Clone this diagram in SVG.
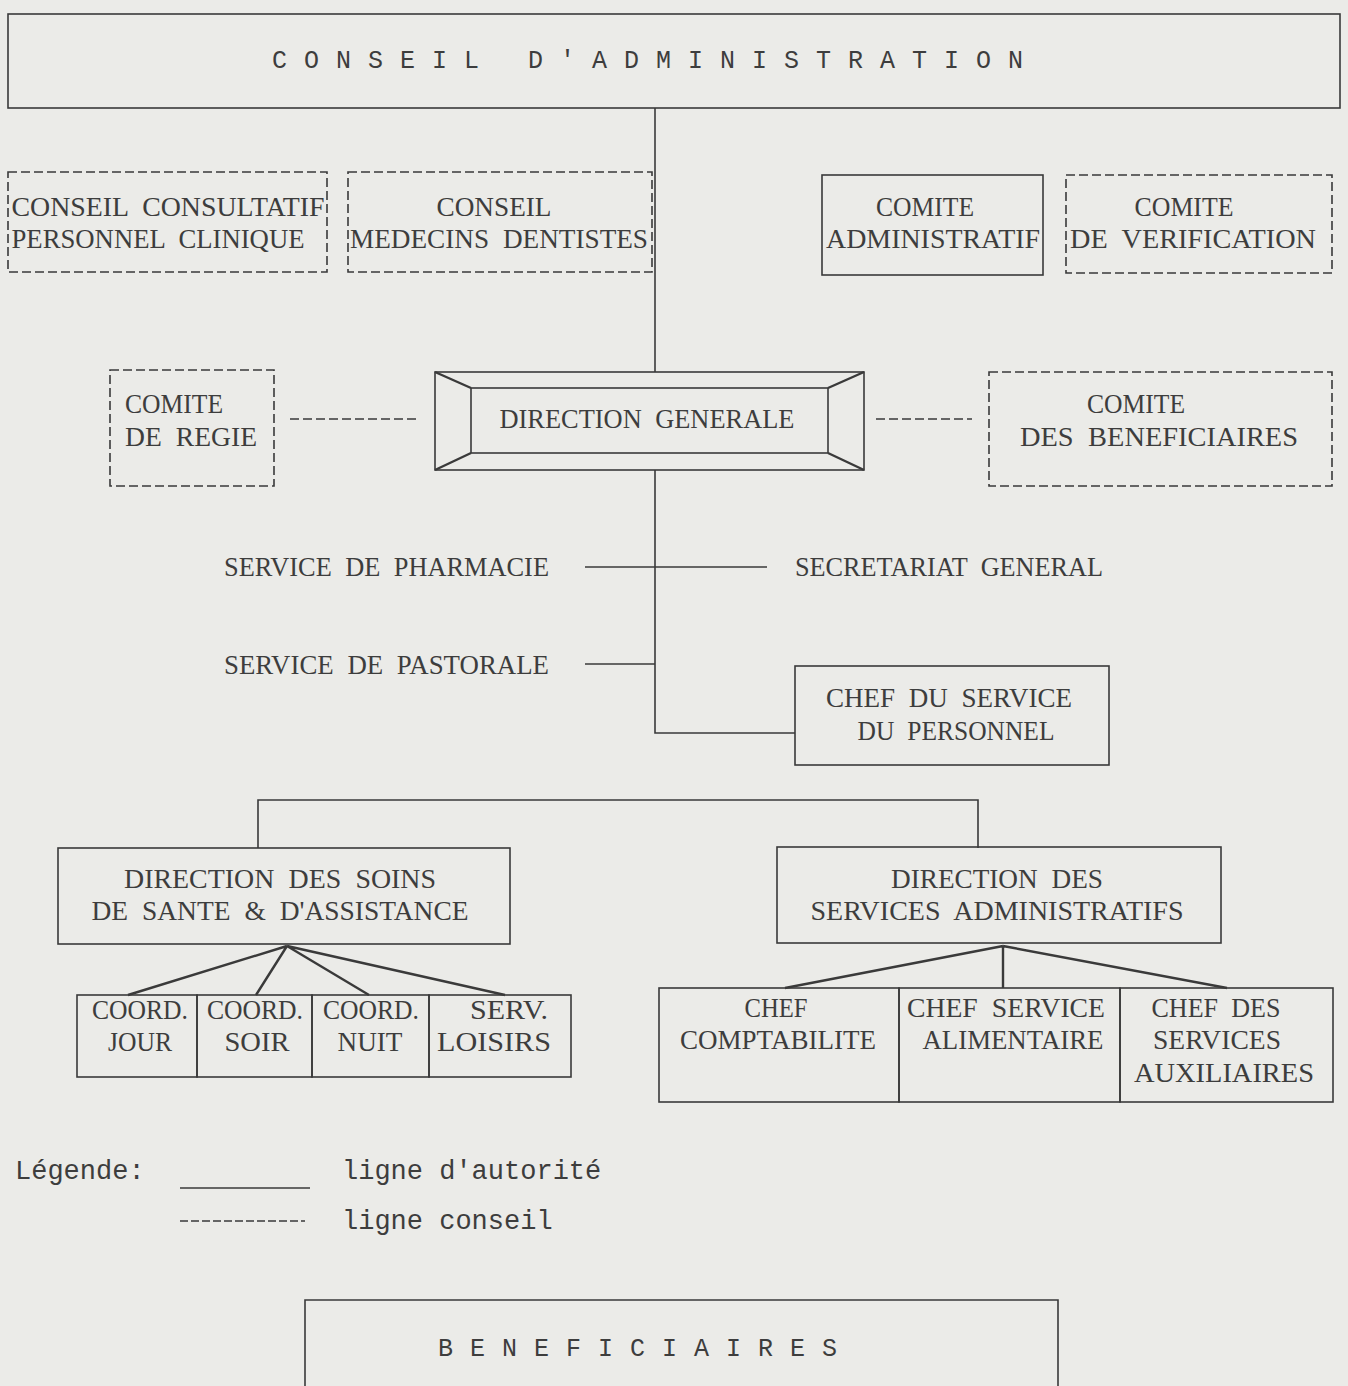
<svg xmlns="http://www.w3.org/2000/svg" width="1348" height="1386" viewBox="0 0 1348 1386">
<style>
.bg{fill:#ebebe8}
.box{fill:none;stroke:#3a3a3a;stroke-width:1.6}
.dbox{fill:none;stroke:#3a3a3a;stroke-width:1.6;stroke-dasharray:9 4}
.ln{fill:none;stroke:#3a3a3a;stroke-width:1.6}
.fan{fill:none;stroke:#3a3a3a;stroke-width:2.4}
.dl{fill:none;stroke:#3a3a3a;stroke-width:1.6;stroke-dasharray:9 4}
.t{font-family:"Liberation Serif","Times New Roman",serif;font-size:27px;fill:#3d3d3d;text-anchor:middle;word-spacing:7px}
.ts{font-family:"Liberation Serif","Times New Roman",serif;font-size:27px;fill:#3d3d3d;word-spacing:7px}
.lg{font-family:"Liberation Mono","Courier New",monospace;font-size:27px;fill:#3d3d3d}
.big{font-family:"Liberation Mono","Courier New",monospace;font-size:25px;fill:#3d3d3d;letter-spacing:17px}
</style>
<rect class="bg" x="0" y="0" width="1348" height="1386"/>

<g id="connectors">
  <path class="ln" d="M655 108 V372"/>
  <path class="ln" d="M655 470 V733 H795"/>
  <path class="ln" d="M585 567 H767"/>
  <path class="ln" d="M585 664 H655"/>
  <path class="ln" d="M258 848 V800 H978 V848"/>
  <path class="fan" d="M287 946 L128 995 M287 946 L256 995 M287 946 L369 995 M287 946 L505 995"/>
  <path class="fan" d="M1003 946 L785 988 M1003 946 V988 M1003 946 L1227 988"/>
  <path class="dl" d="M290 419 H417"/>
  <path class="dl" d="M876 419 H972"/>
</g>

<g id="conseil-administration">
  <rect class="box" x="8" y="14" width="1332" height="94"/>
  <text class="big" x="272" y="68">CONSEIL D'ADMINISTRATION</text>
</g>

<g id="conseil-consultatif">
  <rect class="dbox" x="8" y="172" width="319" height="100"/>
  <text class="t" x="168" y="216" textLength="313" lengthAdjust="spacingAndGlyphs">CONSEIL CONSULTATIF</text>
  <text class="t" x="158" y="248" textLength="293" lengthAdjust="spacingAndGlyphs">PERSONNEL CLINIQUE</text>
</g>

<g id="conseil-medecins">
  <rect class="dbox" x="348" y="172" width="304" height="100"/>
  <text class="t" x="494" y="216" textLength="115" lengthAdjust="spacingAndGlyphs">CONSEIL</text>
  <text class="t" x="499" y="248" textLength="298" lengthAdjust="spacingAndGlyphs">MEDECINS DENTISTES</text>
</g>

<g id="comite-administratif">
  <rect class="box" x="822" y="175" width="221" height="100"/>
  <text class="t" x="925" y="216" textLength="98" lengthAdjust="spacingAndGlyphs">COMITE</text>
  <text class="t" x="933" y="248" textLength="214" lengthAdjust="spacingAndGlyphs">ADMINISTRATIF</text>
</g>

<g id="comite-verification">
  <rect class="dbox" x="1066" y="175" width="266" height="98"/>
  <text class="t" x="1184" y="216" textLength="99" lengthAdjust="spacingAndGlyphs">COMITE</text>
  <text class="t" x="1193" y="248" textLength="246" lengthAdjust="spacingAndGlyphs">DE VERIFICATION</text>
</g>

<g id="comite-regie">
  <rect class="dbox" x="110" y="370" width="164" height="116"/>
  <text class="ts" x="125" y="413" textLength="98" lengthAdjust="spacingAndGlyphs">COMITE</text>
  <text class="ts" x="125" y="446" textLength="132" lengthAdjust="spacingAndGlyphs">DE REGIE</text>
</g>

<g id="direction-generale">
  <rect class="box" x="435" y="372" width="429" height="98"/>
  <rect class="box" x="471" y="388" width="357" height="65"/>
  <path class="fan" d="M435 372 L471 388 M435 470 L471 453 M864 372 L828 388 M864 470 L828 453"/>
  <text class="t" x="647" y="428" textLength="295" lengthAdjust="spacingAndGlyphs">DIRECTION GENERALE</text>
</g>

<g id="comite-beneficiaires">
  <rect class="dbox" x="989" y="372" width="343" height="114"/>
  <text class="t" x="1136" y="413" textLength="98" lengthAdjust="spacingAndGlyphs">COMITE</text>
  <text class="t" x="1159" y="446" textLength="278" lengthAdjust="spacingAndGlyphs">DES BENEFICIAIRES</text>
</g>

<g id="service-pharmacie">
  <text class="ts" x="224" y="576" textLength="325" lengthAdjust="spacingAndGlyphs">SERVICE DE PHARMACIE</text>
</g>
<g id="secretariat-general">
  <text class="ts" x="795" y="576" textLength="308" lengthAdjust="spacingAndGlyphs">SECRETARIAT GENERAL</text>
</g>
<g id="service-pastorale">
  <text class="ts" x="224" y="674" textLength="325" lengthAdjust="spacingAndGlyphs">SERVICE DE PASTORALE</text>
</g>

<g id="chef-personnel">
  <rect class="box" x="795" y="666" width="314" height="99"/>
  <text class="t" x="949" y="707" textLength="246" lengthAdjust="spacingAndGlyphs">CHEF DU SERVICE</text>
  <text class="t" x="956" y="740" textLength="197" lengthAdjust="spacingAndGlyphs">DU PERSONNEL</text>
</g>

<g id="direction-soins">
  <rect class="box" x="58" y="848" width="452" height="96"/>
  <text class="t" x="280" y="888" textLength="312" lengthAdjust="spacingAndGlyphs">DIRECTION DES SOINS</text>
  <text class="t" x="280" y="920" textLength="377" lengthAdjust="spacingAndGlyphs">DE SANTE &amp; D'ASSISTANCE</text>
</g>

<g id="coord-jour">
  <rect class="box" x="77" y="995" width="120" height="82"/>
  <text class="t" x="140" y="1019" textLength="96" lengthAdjust="spacingAndGlyphs">COORD.</text>
  <text class="t" x="140" y="1051" textLength="64" lengthAdjust="spacingAndGlyphs">JOUR</text>
</g>
<g id="coord-soir">
  <rect class="box" x="197" y="995" width="115" height="82"/>
  <text class="t" x="255" y="1019" textLength="96" lengthAdjust="spacingAndGlyphs">COORD.</text>
  <text class="t" x="257" y="1051" textLength="65" lengthAdjust="spacingAndGlyphs">SOIR</text>
</g>
<g id="coord-nuit">
  <rect class="box" x="312" y="995" width="117" height="82"/>
  <text class="t" x="371" y="1019" textLength="96" lengthAdjust="spacingAndGlyphs">COORD.</text>
  <text class="t" x="370" y="1051" textLength="65" lengthAdjust="spacingAndGlyphs">NUIT</text>
</g>
<g id="serv-loisirs">
  <rect class="box" x="429" y="995" width="142" height="82"/>
  <text class="t" x="509" y="1019" textLength="78" lengthAdjust="spacingAndGlyphs">SERV.</text>
  <text class="t" x="494" y="1051" textLength="114" lengthAdjust="spacingAndGlyphs">LOISIRS</text>
</g>

<g id="direction-services">
  <rect class="box" x="777" y="847" width="444" height="96"/>
  <text class="t" x="997" y="888" textLength="212" lengthAdjust="spacingAndGlyphs">DIRECTION DES</text>
  <text class="t" x="997" y="920" textLength="373" lengthAdjust="spacingAndGlyphs">SERVICES ADMINISTRATIFS</text>
</g>

<g id="chef-comptabilite">
  <rect class="box" x="659" y="988" width="240" height="114"/>
  <text class="t" x="776" y="1017" textLength="63" lengthAdjust="spacingAndGlyphs">CHEF</text>
  <text class="t" x="778" y="1049" textLength="196" lengthAdjust="spacingAndGlyphs">COMPTABILITE</text>
</g>
<g id="chef-alimentaire">
  <rect class="box" x="899" y="988" width="221" height="114"/>
  <text class="t" x="1006" y="1017" textLength="198" lengthAdjust="spacingAndGlyphs">CHEF SERVICE</text>
  <text class="t" x="1013" y="1049" textLength="181" lengthAdjust="spacingAndGlyphs">ALIMENTAIRE</text>
</g>
<g id="chef-auxiliaires">
  <rect class="box" x="1120" y="988" width="213" height="114"/>
  <text class="t" x="1216" y="1017" textLength="129" lengthAdjust="spacingAndGlyphs">CHEF DES</text>
  <text class="t" x="1217" y="1049" textLength="128" lengthAdjust="spacingAndGlyphs">SERVICES</text>
  <text class="t" x="1224" y="1082" textLength="180" lengthAdjust="spacingAndGlyphs">AUXILIAIRES</text>
</g>

<g id="legende">
  <text class="lg" x="15" y="1179">Légende:</text>
  <path class="ln" d="M180 1188 H310"/>
  <text class="lg" x="342" y="1179">ligne d'autorité</text>
  <path class="dl" d="M180 1221 H305" style="stroke-dasharray:8 3"/>
  <text class="lg" x="342" y="1229">ligne conseil</text>
</g>

<g id="beneficiaires">
  <path class="box" d="M305 1400 V1300 H1058 V1400"/>
  <text class="big" x="438" y="1356">BENEFICIAIRES</text>
</g>
</svg>
